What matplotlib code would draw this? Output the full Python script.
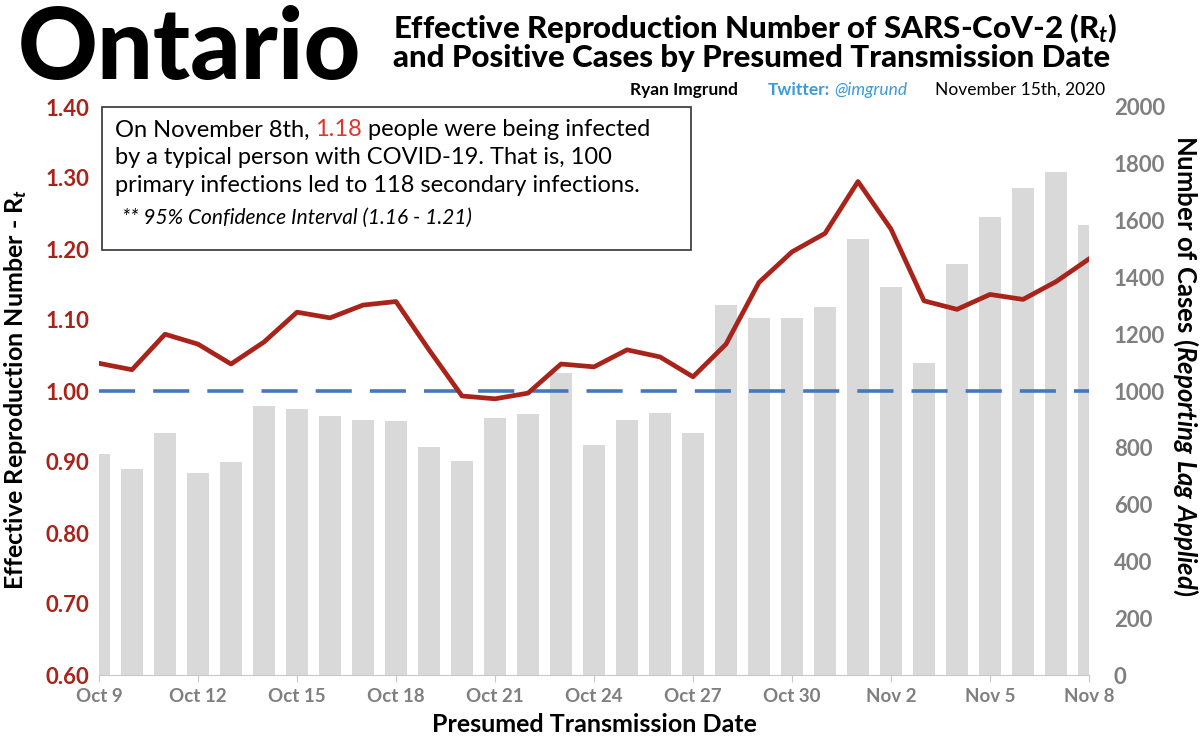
import matplotlib
matplotlib.use("Agg")
import matplotlib.pyplot as plt
import numpy as np

plt.rcParams['font.family'] = ['Lato', 'DejaVu Sans']
plt.rcParams['mathtext.fontset'] = 'custom'
plt.rcParams['mathtext.rm'] = 'Lato:bold'
plt.rcParams['mathtext.it'] = 'Lato:italic:bold'
plt.rcParams['mathtext.bf'] = 'Lato:bold'

dates = ["Oct 9", "Oct 10", "Oct 11", "Oct 12", "Oct 13", "Oct 14", "Oct 15", "Oct 16",
         "Oct 17", "Oct 18", "Oct 19", "Oct 20", "Oct 21", "Oct 22", "Oct 23", "Oct 24",
         "Oct 25", "Oct 26", "Oct 27", "Oct 28", "Oct 29", "Oct 30", "Oct 31", "Nov 1",
         "Nov 2", "Nov 3", "Nov 4", "Nov 5", "Nov 6", "Nov 7", "Nov 8"]
cases = [779, 725, 852, 711, 751, 946, 937, 913, 899, 895, 804, 753, 906, 920, 1063, 810,
         897, 922, 851, 1303, 1257, 1257, 1296, 1534, 1365, 1099, 1447, 1613, 1715, 1772, 1583]
rt = [1.039, 1.030, 1.080, 1.066, 1.038, 1.069, 1.111, 1.103, 1.121, 1.126, 1.058, 0.993,
      0.989, 0.997, 1.038, 1.034, 1.058, 1.048, 1.020, 1.066, 1.153, 1.196, 1.222, 1.295,
      1.228, 1.127, 1.115, 1.136, 1.129, 1.154, 1.186]
threshold = 1.0
left_ticks = [0.60, 0.70, 0.80, 0.90, 1.00, 1.10, 1.20, 1.30, 1.40]
right_ticks = [0, 200, 400, 600, 800, 1000, 1200, 1400, 1600, 1800, 2000]
xtick_idx = [0, 3, 6, 9, 12, 15, 18, 21, 24, 27, 30]

RED = '#a8231a'
GRAY = '#7f7f7f'
BAR = '#d9d9d9'
BLUE = '#4677bd'

W, H = 1200, 742
fig = plt.figure(figsize=(12, 7.42), dpi=100)
ax = fig.add_axes([99/W, 1-675/H, (1089-99)/W, (675-107)/H])
ax2 = ax.twinx()

x = np.arange(len(dates))
ax.bar(x, cases, width=0.64, color=BAR, zorder=1)
ax.set_ylim(0, 2000)
ax.set_xlim(0, len(dates)-1)
ax.set_xticks(xtick_idx)
ax.set_xticklabels([dates[i] for i in xtick_idx], color=GRAY, fontsize=13.5, fontweight='bold')
ax.tick_params(axis='x', length=5, color='#c8c8c8', pad=4)
for s in ['top', 'left', 'right']:
    ax.spines[s].set_visible(False)
ax.spines['bottom'].set_color('#c8c8c8')
ax.set_xlabel('Presumed Transmission Date', fontsize=18, fontweight='bold', labelpad=6)
ax.yaxis.tick_right()
ax.set_yticks(right_ticks)
ax.set_yticklabels([str(v) for v in right_ticks], color=GRAY, fontsize=16, fontweight='bold')
ax.tick_params(axis='y', which='both', left=False, right=False, labelleft=False,
               labelright=True, length=0, pad=18)

ax2.plot(x, rt, color=RED, lw=3.4, zorder=3)
ax2.axhline(threshold, color=BLUE, lw=2.6, dashes=(10, 5), zorder=2)
ax2.set_ylim(0.60, 1.40)
ax2.yaxis.tick_left()
ax2.set_yticks(left_ticks)
ax2.set_yticklabels([f"{v:.2f}" for v in left_ticks], color=RED, fontsize=16, fontweight='bold')
ax2.tick_params(axis='y', which='both', left=False, right=False, labelleft=True,
                labelright=False, length=0, pad=7)
for s in ['top', 'left', 'right', 'bottom']:
    ax2.spines[s].set_visible(False)

# Axis labels
fig.text(16/W, 1-390/H, 'Effective Reproduction Number - R$_t$', fontsize=18, fontweight='bold',
         rotation=90, va='center', ha='center')
fig.text(1186/W, 1-366/H, 'Number of Cases ($\\it{Reporting\\ Lag\\ Applied}$)', fontsize=18.5,
         fontweight='bold', rotation=-90, va='center', ha='center')

# Title
fig.text(18/W, 1-51/H, 'Ontario', fontsize=71, fontweight='black', va='center', ha='left')
fig.text(393/W, 1-28/H, 'Effective Reproduction Number of SARS-CoV-2 (R$_t$)',
         fontsize=22.5, fontweight='black', va='center', ha='left')
fig.text(393/W, 1-58/H, 'and Positive Cases by Presumed Transmission Date',
         fontsize=22.5, fontweight='black', va='center', ha='left')
fig.text(630/W, 1-90/H, 'Ryan Imgrund', fontsize=12.5, fontweight='bold', va='center', ha='left')
fig.text(768/W, 1-90/H, 'Twitter:', fontsize=12.5, fontweight='bold', color='#3d9ad8',
         va='center', ha='left')
fig.text(834/W, 1-90/H, '@imgrund', fontsize=12.5, style='italic', color='#3d9ad8',
         va='center', ha='left')
fig.text(935/W, 1-90/H, 'November 15th, 2020', fontsize=12.5, va='center', ha='left')

# Annotation box
box = matplotlib.patches.Rectangle((102/W, 1-250/H), (691-102)/W, (250-107)/H,
                                   transform=fig.transFigure, facecolor='white',
                                   edgecolor='#333333', lw=1.2, zorder=5)
fig.patches.append(box)
fs = 17
a = fig.text(115/W, 1-130/H, 'On November 8th, ', fontsize=fs, va='center', ha='left', zorder=6)
b = fig.text(0, 0, '1.18', fontsize=fs, color='#e0352b', va='center', ha='left', zorder=6)
c = fig.text(0, 0, ' people were being infected', fontsize=fs, va='center', ha='left', zorder=6)
fig.canvas.draw()
r = fig.canvas.get_renderer()
ea = a.get_window_extent(r)
b.set_position((ea.x1/W, 1-130/H))
eb = b.get_window_extent(r)
c.set_position((eb.x1/W, 1-130/H))
fig.text(115/W, 1-158/H, 'by a typical person with COVID-19. That is, 100', fontsize=fs,
         va='center', ha='left', zorder=6)
fig.text(115/W, 1-186/H, 'primary infections led to 118 secondary infections.', fontsize=fs,
         va='center', ha='left', zorder=6)
fig.text(122/W, 1-218/H, '** 95% Confidence Interval (1.16 - 1.21)', fontsize=15,
         style='italic', va='center', ha='left', zorder=6)

fig.savefig('out.png', dpi=100)
